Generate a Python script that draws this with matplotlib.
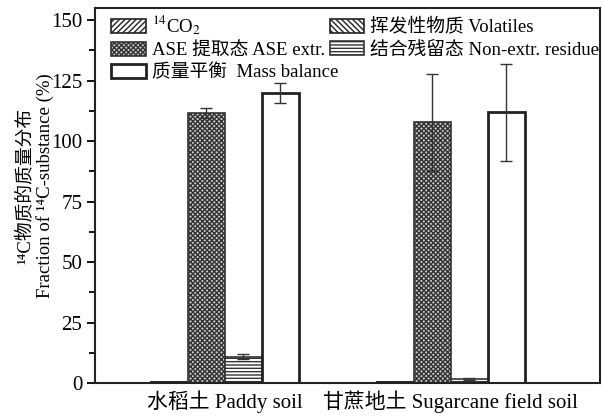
import numpy as np
import matplotlib
matplotlib.use('Agg')
import matplotlib.pyplot as plt
from matplotlib.ticker import MultipleLocator

plt.rcParams['font.family'] = ['Liberation Serif', 'Noto Sans CJK SC', 'DejaVu Serif']
plt.rcParams['mathtext.fontset'] = 'stix'
plt.rcParams['hatch.linewidth'] = 1.0

# data
soils = ['水稻土 Paddy soil', '甘蔗地土 Sugarcane field soil']
co2 = [0.5, 0.5]
co2_err = [0.1, 0.1]
volatiles = [0.3, 0.3]
volatiles_err = [0.0, 0.0]
ase = [111.7, 107.7]
ase_err = [2.0, 20.0]
residue = [10.9, 1.5]
residue_err = [1.0, 0.4]
mass_balance = [119.8, 111.9]
mass_balance_err = [4.0, 20.0]

fig = plt.figure(figsize=(6.03, 4.17), dpi=100)
ax = fig.add_axes([0.1575, 0.0815, 0.8375, 0.8995])

x = np.arange(len(soils))
w = 0.164

errkw = dict(ecolor='#333333', elinewidth=1.0, capsize=4, capthick=1.0)
b_co2 = ax.bar(x - 1.5 * w, co2, w, yerr=co2_err, color='white', edgecolor='#222222',
               hatch='//////', linewidth=1.2, label='$^{14}$CO$_2$', error_kw=errkw)
b_vol = ax.bar(x - 1.5 * w, volatiles, w, yerr=volatiles_err, color='white', edgecolor='#222222',
               hatch='\\\\\\\\\\\\', linewidth=1.2, label='挥发性物质 Volatiles', error_kw=errkw)
b_ase = ax.bar(x - 0.5 * w, ase, w, yerr=ase_err, color='#c8c8c8', edgecolor='#333333',
               hatch='xxxxxxx', linewidth=1.2, label='ASE 提取态 ASE extr.', error_kw=errkw)
b_res = ax.bar(x + 0.5 * w, residue, w, yerr=residue_err, color='white', edgecolor='#333333',
               hatch='-----', linewidth=1.2, label='结合残留态 Non-extr. residue', error_kw=errkw)
b_mb = ax.bar(x + 1.5 * w, mass_balance, w, yerr=mass_balance_err, color='white', edgecolor='#222222',
              linewidth=2.0, label='质量平衡  Mass balance', error_kw=errkw)

ax.set_xlim(-0.575, 1.66)
ax.set_ylim(0, 155)
ax.yaxis.set_major_locator(MultipleLocator(25))
ax.yaxis.set_minor_locator(MultipleLocator(12.5))
ax.set_xticks(x)
ax.set_xticklabels(soils, fontsize=15)
ax.tick_params(axis='x', length=0, pad=5)
ax.tick_params(axis='y', which='major', length=6, width=1.3, labelsize=15, pad=3)
ax.tick_params(axis='y', which='minor', length=4, width=1.3)
for s in ax.spines.values():
    s.set_linewidth(1.5)
    s.set_color('#222222')

ax.set_ylabel('¹⁴C物质的质量分布\nFraction of ¹⁴C-substance (%)',
              fontsize=13.5, linespacing=1.05)
ax.yaxis.set_label_coords(-0.082, 0.525)

# row-major order like the original legend
handles = [b_co2, b_ase, b_mb, b_vol, b_res]
labels = [h.get_label() for h in handles]
ax.legend(handles, labels, loc='upper left', ncol=2, frameon=False, fontsize=13.5,
          handlelength=1.85, handleheight=0.75, columnspacing=-0.45,
          handletextpad=0.3, labelspacing=0.25, borderaxespad=0.2,
          bbox_to_anchor=(0.01, 1.015))

fig.savefig('out.png', dpi=100)
